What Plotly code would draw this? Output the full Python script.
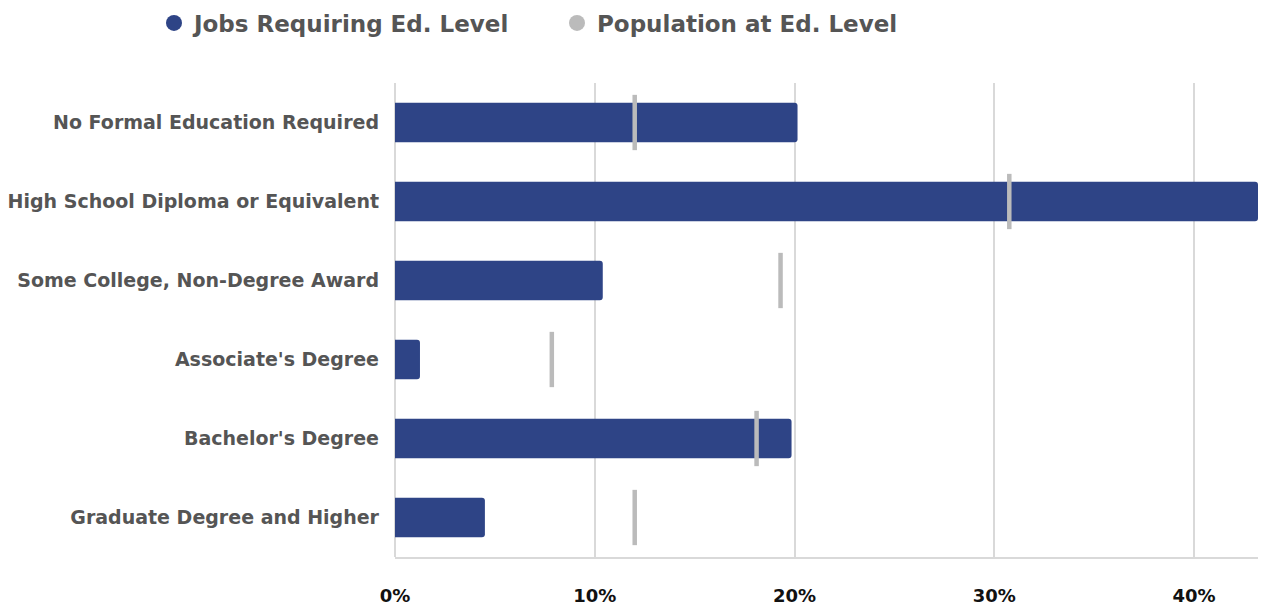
import plotly.graph_objects as go

categories = [
    "No Formal Education Required",
    "High School Diploma or Equivalent",
    "Some College, Non-Degree Award",
    "Associate's Degree",
    "Bachelor's Degree",
    "Graduate Degree and Higher",
]
jobs_pct = [20.15, 43.2, 10.4, 1.25, 19.85, 4.5]
pop_pct = [12.0, 30.75, 19.3, 7.85, 18.1, 12.0]
x_ticks = [0, 10, 20, 30, 40]
x_tick_labels = ["0%", "10%", "20%", "30%", "40%"]

BLUE = "#2E4486"
GRAY = "#BBBBBB"
FONT = "DejaVu Sans"

W, H = 1258, 600

fig = go.Figure()
fig.add_trace(go.Bar(
    y=categories, x=jobs_pct, orientation="h",
    marker=dict(color=BLUE, line=dict(width=0)),
    width=0.5, showlegend=False, name="Jobs Requiring Ed. Level",
))
fig.add_trace(go.Scatter(
    y=categories, x=pop_pct, mode="markers",
    marker=dict(symbol="line-ns", size=39.5, color=GRAY,
                line=dict(color=GRAY, width=4.5)),
    showlegend=False, name="Population at Ed. Level",
))
# legend entries (circle markers)
fig.add_trace(go.Scatter(
    x=[None], y=[None], mode="markers", name="Jobs Requiring Ed. Level",
    marker=dict(symbol="circle", size=16, color=BLUE),
))
fig.add_trace(go.Scatter(
    x=[None], y=[None], mode="markers", name="Population at Ed. Level",
    marker=dict(symbol="circle", size=16, color=GRAY),
))

fig.update_layout(
    width=W, height=H,
    margin=dict(l=387, r=8, t=75, b=50.5, autoexpand=False),
    plot_bgcolor="white", paper_bgcolor="white",
    barcornerradius=3,
    font=dict(family=FONT, color="#555555"),
    legend=dict(
        orientation="h", xref="container", yref="container",
        x=146 / W, y=1 - 15 / H, xanchor="left", yanchor="middle",
        font=dict(family=FONT, size=23, color="#555555", weight="bold"),
        entrywidth=358, itemsizing="trace",
    ),
    xaxis=dict(
        range=[0, 43.2], tickvals=x_ticks, ticktext=x_tick_labels,
        showgrid=True, gridcolor="#D9D9D9", gridwidth=2,
        zeroline=True, zerolinecolor="#D9D9D9", zerolinewidth=2,
        showline=True, linecolor="#D9D9D9", linewidth=2,
        ticks="", ticklabelstandoff=21, automargin=False,
        tickfont=dict(family=FONT, size=18, color="#111111", weight="bold"),
        fixedrange=True,
    ),
    yaxis=dict(
        categoryorder="array", categoryarray=categories[::-1],
        range=[-0.5, 5.5], automargin=False,
        showgrid=False, zeroline=False, ticks="", ticklabelstandoff=15,
        tickfont=dict(family=FONT, size=19, color="#555555", weight="bold"),
        fixedrange=True,
    ),
)

fig.write_html("out.html")
